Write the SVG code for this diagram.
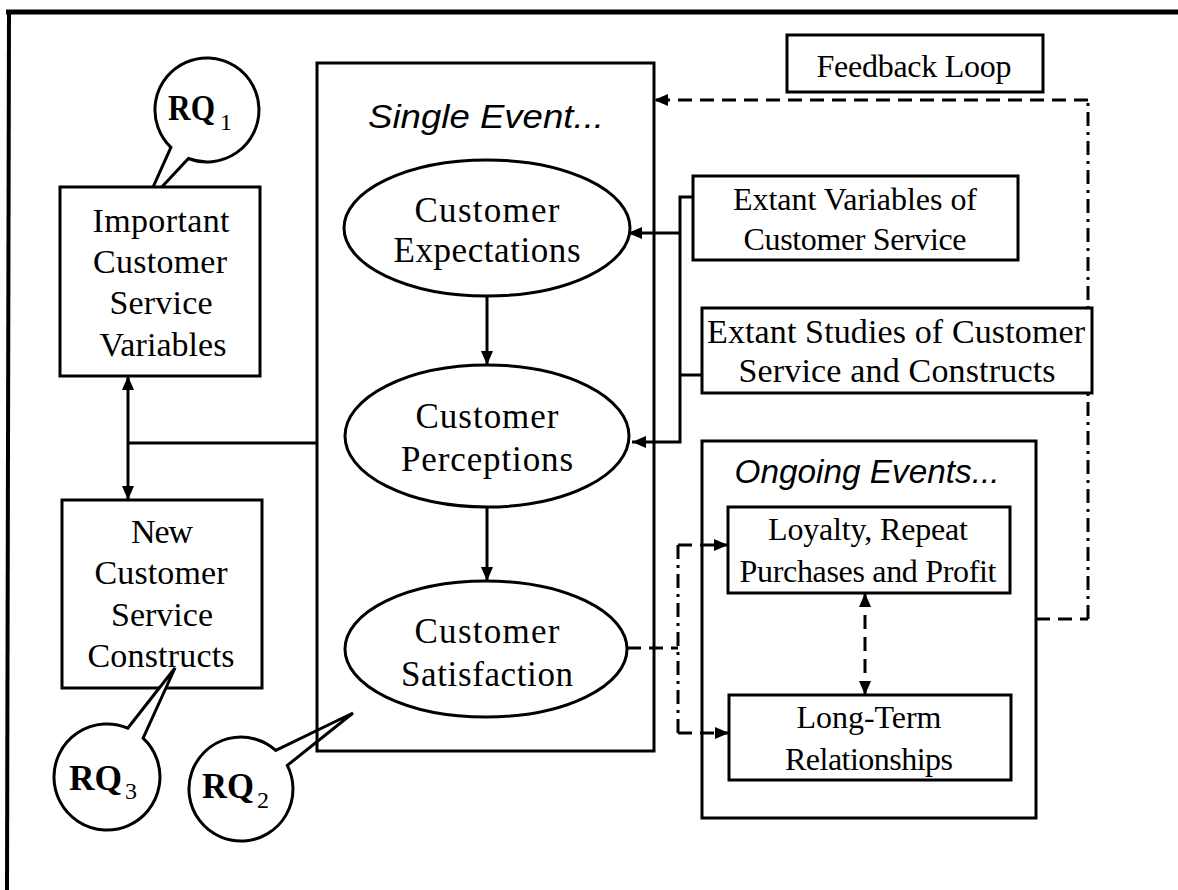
<svg xmlns="http://www.w3.org/2000/svg" width="1178" height="890" viewBox="0 0 1178 890">
<defs>
<marker id="ah" viewBox="0 0 14 12" refX="14" refY="6" markerWidth="14" markerHeight="12" orient="auto-start-reverse" markerUnits="userSpaceOnUse">
<path d="M0,0 L14,6 L0,12 Z" fill="#000"/>
</marker>
<style>
.box{fill:#fff;stroke:#000;stroke-width:3}
.frame{fill:none;stroke:#000;stroke-width:3}
.ell{fill:#fff;stroke:#000;stroke-width:3}
.bub{fill:#fff;stroke:#000;stroke-width:3;stroke-linejoin:miter}
.t{font-family:"Liberation Serif","Times New Roman",serif;font-size:34px;fill:#000;text-anchor:middle}
.t2{font-family:"Liberation Serif","Times New Roman",serif;font-size:32px;fill:#000;text-anchor:middle}
.te{font-family:"Liberation Serif","Times New Roman",serif;font-size:35px;fill:#000;text-anchor:middle}
.it{font-family:"Liberation Sans",Arial,sans-serif;font-style:italic;font-size:33px;fill:#000;text-anchor:middle}
.rq{font-family:"Liberation Serif","Times New Roman",serif;font-weight:bold;font-size:35px;fill:#000}
.sub{font-family:"Liberation Serif","Times New Roman",serif;font-size:24px;fill:#000}
.ln{fill:none;stroke:#000;stroke-width:3}
.dash{fill:none;stroke:#000;stroke-width:3;stroke-dasharray:14 8}
.dd{fill:none;stroke:#000;stroke-width:3;stroke-dasharray:14 6 3 6}
</style>
</defs>
<rect width="1178" height="890" fill="#fff"/>
<g id="outer-frame">
<line x1="6" y1="12" x2="1178" y2="12" stroke="#000" stroke-width="5"/>
<line x1="9" y1="10" x2="7" y2="890" stroke="#000" stroke-width="4"/>
</g>

<g id="rq2">
<path class="bub" d="M275.8 750.4 L353 713 L287.3 765.4 A52 52 0 1 1 275.8 750.4 Z"/>
<text x="202" y="798" class="rq" textLength="52" lengthAdjust="spacingAndGlyphs">RQ</text><text x="257" y="808" class="sub">2</text>
</g>

<g id="single-event">
<rect class="frame" x="317" y="63" width="337" height="688"/>
<text x="486" y="128" class="it" textLength="236" lengthAdjust="spacingAndGlyphs">Single Event...</text>
</g>

<g id="ongoing-events">
<rect class="frame" x="702" y="441" width="334" height="377"/>
<text x="867" y="483" class="it" textLength="265" lengthAdjust="spacingAndGlyphs">Ongoing Events...</text>
</g>

<g id="connectors">
<line class="ln" x1="487" y1="296" x2="487" y2="365" marker-end="url(#ah)"/>
<line class="ln" x1="487" y1="507" x2="487" y2="581" marker-end="url(#ah)"/>
<polyline class="ln" points="693,197 680,197 680,442 632,442" marker-end="url(#ah)"/>
<line class="ln" x1="680" y1="233" x2="628" y2="233" marker-end="url(#ah)"/>
<line class="ln" x1="702" y1="375" x2="680" y2="375"/>
<line class="ln" x1="128" y1="376" x2="128" y2="500" marker-start="url(#ah)" marker-end="url(#ah)"/>
<line class="ln" x1="128" y1="443" x2="317" y2="443"/>
<line class="dash" x1="627" y1="648" x2="678" y2="648"/>
<line class="dd" x1="678" y1="545" x2="678" y2="733"/>
<line class="dash" x1="678" y1="545" x2="728" y2="545" marker-end="url(#ah)"/>
<line class="dash" x1="678" y1="733" x2="729" y2="733" marker-end="url(#ah)"/>
<line class="dash" x1="865" y1="593" x2="865" y2="695" marker-start="url(#ah)" marker-end="url(#ah)"/>
<line class="dash" x1="1036" y1="619" x2="1088" y2="619"/>
<line class="dd" x1="1088" y1="619" x2="1088" y2="100"/>
<line class="dash" x1="1088" y1="100" x2="654" y2="100" marker-end="url(#ah)"/>
</g>

<g id="rq1">
<path class="bub" d="M170.9 147.4 L145 205 L188.4 158.5 A52 52 0 1 0 170.9 147.4 Z"/>
<text x="168" y="120" class="rq" textLength="47" lengthAdjust="spacingAndGlyphs">RQ</text><text x="220" y="130" class="sub">1</text>
</g>

<g id="important">
<rect class="box" x="60" y="187" width="200" height="189"/>
<text class="t" x="161" y="232" textLength="137">Important</text>
<text class="t" x="160" y="273" textLength="134">Customer</text>
<text class="t" x="161" y="314" textLength="103">Service</text>
<text class="t" x="163" y="356" textLength="127">Variables</text>
</g>

<g id="new-constructs">
<rect class="box" x="62" y="500" width="200" height="188"/>
<text class="t" x="162" y="543" textLength="62">New</text>
<text class="t" x="161" y="584" textLength="133">Customer</text>
<text class="t" x="162" y="626" textLength="102">Service</text>
<text class="t" x="161" y="667" textLength="147">Constructs</text>
</g>

<g id="rq3">
<path class="bub" d="M127.7 728.2 L175 668 L143.1 738.2 A53 53 0 1 1 127.7 728.2 Z"/>
<text x="69" y="790" class="rq" textLength="53" lengthAdjust="spacingAndGlyphs">RQ</text><text x="125" y="799" class="sub">3</text>
</g>

<g id="expectations">
<ellipse class="ell" cx="487" cy="228" rx="143" ry="68"/>
<text class="te" x="487" y="222" textLength="145">Customer</text>
<text class="te" x="487" y="262" textLength="187">Expectations</text>
</g>

<g id="perceptions">
<ellipse class="ell" cx="487" cy="436" rx="142" ry="71"/>
<text class="te" x="487" y="428" textLength="143">Customer</text>
<text class="te" x="487" y="471" textLength="172">Perceptions</text>
</g>

<g id="satisfaction">
<ellipse class="ell" cx="486" cy="649" rx="141" ry="68"/>
<text class="te" x="487" y="643" textLength="145">Customer</text>
<text class="te" x="487" y="686" textLength="172">Satisfaction</text>
</g>

<g id="feedback-loop">
<rect class="box" x="787" y="35" width="256" height="57"/>
<text class="t2" x="914" y="77" textLength="195">Feedback Loop</text>
</g>

<g id="extant-variables">
<rect class="box" x="693" y="176" width="325" height="84"/>
<text class="t2" x="855" y="210" textLength="244">Extant Variables of</text>
<text class="t2" x="855" y="250" textLength="223">Customer Service</text>
</g>

<g id="extant-studies">
<rect class="box" x="702" y="308" width="390" height="85"/>
<text class="t" x="896" y="343" textLength="378">Extant Studies of Customer</text>
<text class="t" x="897" y="382" textLength="317">Service and Constructs</text>
</g>

<g id="loyalty">
<rect class="box" x="728" y="507" width="282" height="86"/>
<text class="t2" x="868" y="540" textLength="200">Loyalty, Repeat</text>
<text class="t2" x="868" y="582" textLength="257">Purchases and Profit</text>
</g>

<g id="long-term">
<rect class="box" x="729" y="695" width="282" height="85"/>
<text class="t2" x="869" y="728" textLength="145">Long-Term</text>
<text class="t2" x="869" y="770" textLength="168">Relationships</text>
</g>
</svg>
